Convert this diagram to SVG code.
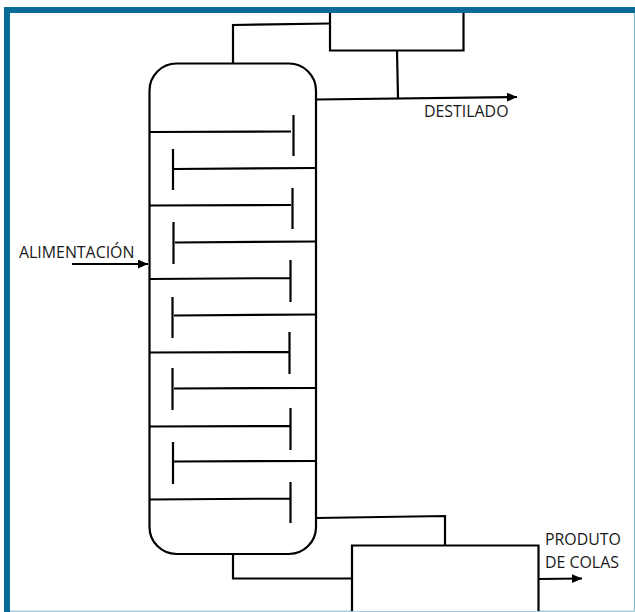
<svg xmlns="http://www.w3.org/2000/svg" width="635" height="612" viewBox="0 0 635 612">
<defs>
<style>
.l{fill:none;stroke:#000;stroke-width:2.2}
.b{fill:#fff;stroke:#000;stroke-width:2.2}
.t{font-family:"Open Sans","Liberation Sans",sans-serif;font-size:15.9px;fill:#1a1a1a}
</style>
<marker id="a" markerUnits="userSpaceOnUse" markerWidth="11" markerHeight="10" refX="10" refY="4.500" orient="auto"><path d="M0 0L10 4.500L0 9Z" fill="#000"/></marker>
</defs>
<rect width="635" height="612" fill="#fff"/>
<g id="frame">
<rect x="4" y="7" width="6" height="605" fill="#0a6b99"/>
<rect x="4" y="7" width="631" height="6" fill="#0a6b99"/>
<rect x="634" y="13" width="1" height="599" fill="#7fb2cb"/>
<rect x="10" y="610.500" width="625" height="1.500" fill="#a9cddd"/>
</g>
<g id="connectors">
<path class="l" d="M233 63V25L330 23.500"/>
<path class="l" d="M397 50.500L398 98"/>
<path class="l" d="M316 99.500L517 97" marker-end="url(#a)"/>
<path class="l" d="M72 264H148" marker-end="url(#a)"/>
<path class="l" d="M316 518L445 516V545"/>
<path class="l" d="M233 554V578.500H352"/>
<path class="l" d="M538 579L582 578.500" marker-end="url(#a)"/>
</g>
<g id="column">
<rect class="b" x="149.500" y="63.500" width="166.500" height="490.500" rx="27" ry="27"/>
<g id="trays">
<path class="l" d="M150 132L291 131.500M293.500 115V156"/>
<path class="l" d="M174 169L316 168M173 149V190"/>
<path class="l" d="M150 205.500L291 205M292.500 188V229"/>
<path class="l" d="M175 242.500L316 241.500M173.500 222V264"/>
<path class="l" d="M150 279L290 278M290.500 260V302"/>
<path class="l" d="M174 315.500L316 314.500M172.500 297V338"/>
<path class="l" d="M150 352.500L289 352M289.500 332V374"/>
<path class="l" d="M174 388.500L316 388M172.500 368V410"/>
<path class="l" d="M150 426.500L290 426M290.500 408V450"/>
<path class="l" d="M174 461.500L316 461M173 442V484"/>
<path class="l" d="M150 499.500L290 498.500M290.500 482V523"/>
</g>
</g>
<g id="condenser"><path class="b" d="M330 13V50.500H463.500V13"/></g>
<g id="reboiler"><path class="b" d="M352 611V545.500H538.500V611"/></g>
<g id="labels">
<text class="t" x="424" y="117">DESTILADO</text>
<text class="t" x="19" y="258">ALIMENTACIÓN</text>
<text class="t" x="545" y="545">PRODUTO</text>
<text class="t" x="545" y="567.500">DE COLAS</text>
</g>
</svg>
